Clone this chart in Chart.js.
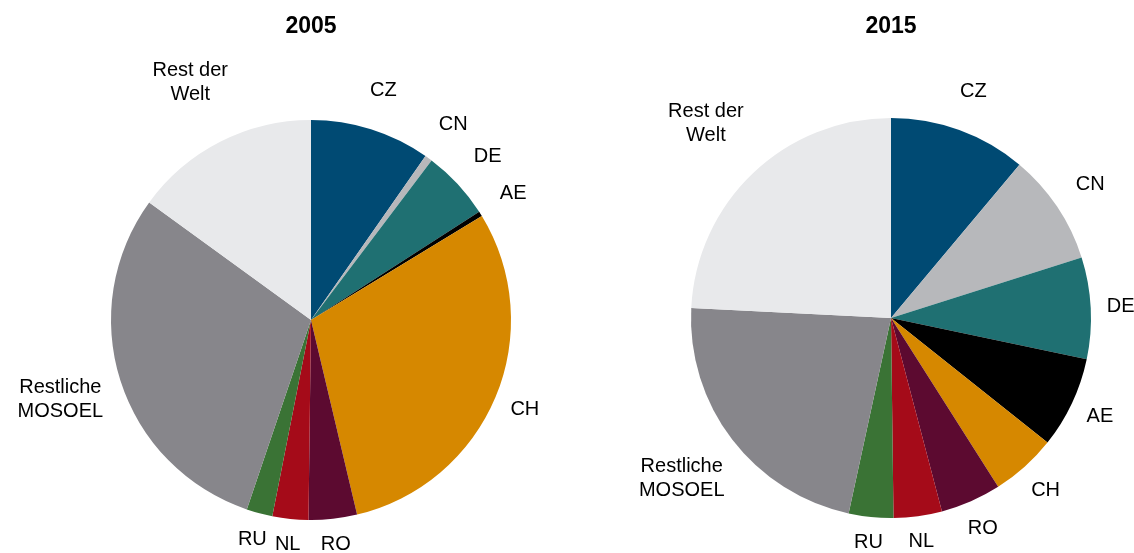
<!DOCTYPE html>
<html>
<head>
<meta charset="utf-8">
<script src="https://cdn.jsdelivr.net/npm/chart.js@4.4.1/dist/chart.umd.min.js"></script>
<style>
  html, body { margin: 0; padding: 0; background: #ffffff; }
  #wrap { position: relative; width: 1134px; height: 553px; overflow: hidden; }
  canvas { position: absolute; left: 0; top: 0; }
</style>
</head>
<body>
<div id="wrap">
  <canvas id="c1" width="1134" height="553"></canvas>
  <canvas id="c2" width="1134" height="553"></canvas>
</div>
<script>
const categories = ['CZ', 'CN', 'DE', 'AE', 'CH', 'RO', 'NL', 'RU', 'Restliche\nMOSOEL', 'Rest der\nWelt'];
const values2005 = [9.7, 0.6, 5.6, 0.4, 30.0, 3.9, 2.9, 2.1, 29.8, 15.0];
const values2015 = [11.1, 9.0, 8.2, 7.4, 5.3, 4.9, 3.9, 3.6, 22.4, 24.2];
const titles = ['2005', '2015'];
const colors = ['#004a73', '#b7b8bb', '#1f7072', '#000000', '#d68800', '#5c0a30', '#a50b19', '#3a7335', '#87868b', '#e8e9eb'];

const FONT = '"Liberation Sans", Arial, sans-serif';

const labelPlugin = {
  id: 'outsideLabels',
  afterDatasetsDraw(chart) {
    const ctx = chart.ctx;
    const meta = chart.getDatasetMeta(0);
    ctx.save();
    ctx.fillStyle = '#000000';
    ctx.font = '20px ' + FONT;
    ctx.textAlign = 'center';
    ctx.textBaseline = 'middle';
    const lineH = 24;
    meta.data.forEach((arc, i) => {
      const lines = chart.data.labels[i].split('\n');
      const mid = (arc.startAngle + arc.endAngle) / 2;
      const w = Math.max(...lines.map(l => ctx.measureText(l).width));
      const h = lines.length * lineH;
      const halfH = lines.length === 1 ? 9 : h / 2;
      const c = Math.cos(mid), s = Math.sin(mid);
      const gap = 15 + 14 * Math.max(0, -s);
      const d = arc.outerRadius + gap + Math.abs(c) * w / 2 + Math.abs(s) * halfH;
      const x = arc.x + c * d;
      const y = arc.y + s * d;
      lines.forEach((l, k) => {
        ctx.fillText(l, x, y - h / 2 + lineH / 2 + k * lineH);
      });
    });
    const cx = meta.data[0].x;
    ctx.font = 'bold 23px ' + FONT;
    ctx.textBaseline = 'alphabetic';
    ctx.fillText(chart.options.plugins.myTitle.text, cx, 33);
    ctx.restore();
  }
};

function makeChart(id, values, title, padding) {
  return new Chart(document.getElementById(id), {
    type: 'pie',
    data: {
      labels: categories,
      datasets: [{
        data: values,
        backgroundColor: colors,
        borderWidth: 0,
        radius: 200
      }]
    },
    options: {
      responsive: false,
      animation: false,
      rotation: 0,
      layout: { padding: padding },
      plugins: {
        legend: { display: false },
        tooltip: { enabled: false },
        title: { display: false },
        myTitle: { text: title }
      }
    },
    plugins: [labelPlugin]
  });
}

makeChart('c1', values2005, titles[0], { left: 0, right: 512, top: 87, bottom: 0 });
makeChart('c2', values2015, titles[1], { left: 648, right: 0, top: 83, bottom: 0 });
</script>
</body>
</html>
